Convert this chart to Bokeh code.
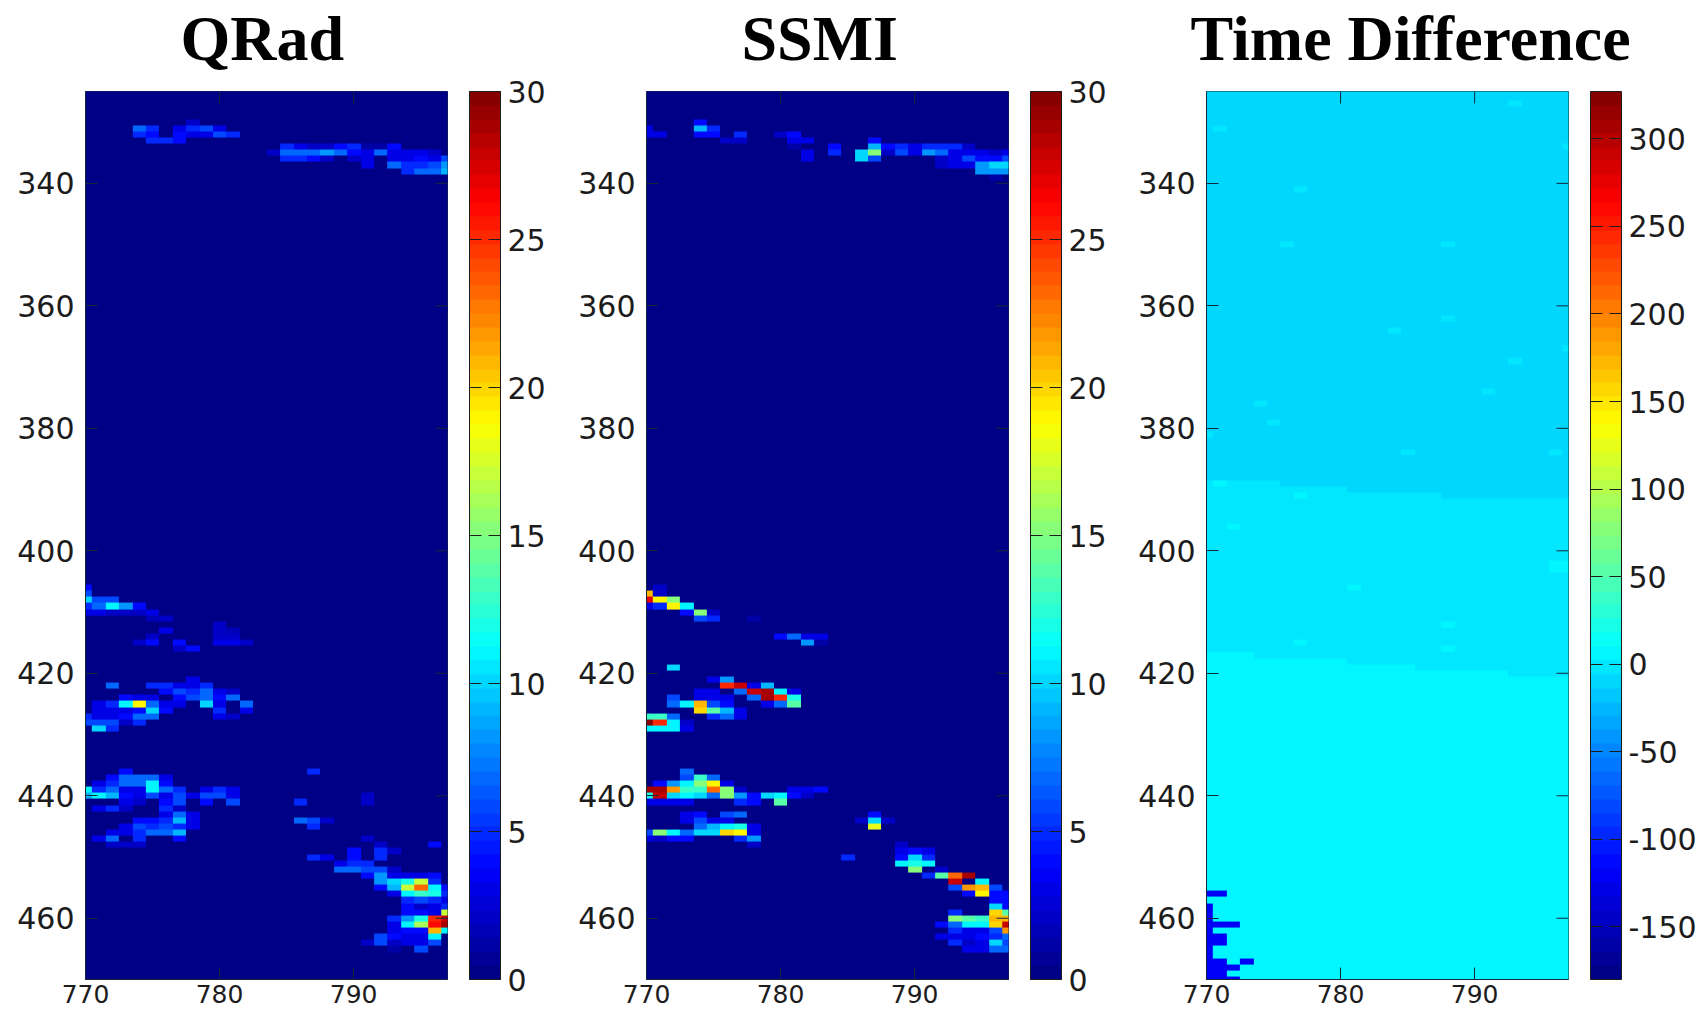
import numpy as np
from bokeh.core.properties import value
from bokeh.embed import file_html
from bokeh.resources import INLINE
from bokeh.layouts import column, row
from bokeh.models import ColorBar, FixedTicker, LinearColorMapper, Range1d
from bokeh.plotting import figure

# ---------- axis values ----------
x_ticks = [770, 780, 790]
y_ticks = [340, 360, 380, 400, 420, 440, 460]
x_values = list(range(770, 798))
y_values = list(range(325, 471))
rain_ticks = [0, 5, 10, 15, 20, 25, 30]
time_ticks = [-150, -100, -50, 0, 50, 100, 150, 200, 250, 300]
titles = ["QRad", "SSMI", "Time Difference"]
rain_limits = (0, 30)
time_limits = (-180, 327)

# ---------- QRad rain rates: {y: {x - 770: value}} ----------
qrad_cells = {
    330: {8: 2},
    331: {4: 7, 5: 5, 7: 3, 8: 5, 9: 6, 10: 3},
    332: {4: 5, 5: 4, 7: 4, 8: 3, 9: 3, 10: 6, 11: 5},
    333: {5: 5, 6: 5, 7: 4},
    334: {15: 5, 16: 3, 17: 2, 18: 2, 19: 4, 20: 5, 21: 1, 22: 1, 23: 4},
    335: {14: 2, 15: 7, 16: 7, 17: 7, 18: 8, 19: 7, 20: 4, 21: 3, 22: 7, 23: 3, 24: 3, 25: 3, 26: 2},
    336: {15: 5, 16: 5, 17: 4, 18: 2, 20: 2, 21: 3, 23: 3, 24: 3, 25: 4, 26: 3, 27: 6},
    337: {21: 3, 23: 7, 24: 5, 25: 5, 26: 6, 27: 8},
    338: {24: 5, 25: 7, 26: 7, 27: 9},
    406: {0: 4},
    407: {0: 6},
    408: {0: 10, 1: 6, 2: 6},
    409: {0: 5, 1: 7, 2: 11, 3: 8, 4: 4},
    410: {0: 3, 1: 3, 2: 2, 3: 2, 4: 2, 5: 3},
    411: {5: 1.5, 6: 2},
    412: {10: 2},
    413: {6: 3, 10: 2, 11: 1.5},
    414: {5: 2, 10: 2, 11: 2},
    415: {4: 2, 5: 4, 7: 4, 10: 3, 11: 3, 12: 2},
    416: {7: 2, 8: 4},
    421: {8: 3},
    422: {2: 7, 5: 5, 6: 5, 7: 3, 8: 3, 9: 5},
    423: {6: 4, 7: 6, 8: 5, 9: 7, 10: 3, 11: 2},
    424: {3: 4, 4: 3, 5: 3, 7: 4, 8: 6, 9: 7, 10: 4, 11: 7},
    425: {1: 3, 2: 5, 3: 11, 4: 19, 5: 7, 6: 3, 7: 3, 9: 10, 10: 3, 12: 7},
    426: {1: 3, 2: 3, 3: 3, 4: 4, 5: 10, 6: 4, 10: 5, 12: 3},
    427: {0: 5, 1: 3, 2: 3, 3: 4, 4: 7, 5: 7, 10: 3, 11: 2},
    428: {0: 6, 1: 6, 2: 6, 3: 2, 4: 5},
    429: {1: 10, 2: 5},
    436: {3: 4, 17: 5},
    437: {2: 4, 3: 7, 4: 7, 5: 7, 6: 3},
    438: {1: 3, 2: 5, 3: 7, 4: 7, 5: 11, 6: 4},
    439: {0: 11, 1: 5, 2: 7, 3: 3, 4: 3, 5: 11, 6: 7, 7: 5, 9: 3, 10: 5, 11: 3},
    440: {0: 9, 1: 11, 2: 9, 3: 4, 4: 3, 5: 6, 6: 3, 7: 6, 8: 3, 9: 6, 10: 6, 11: 3, 21: 2},
    441: {3: 3, 4: 2, 6: 4, 7: 6, 9: 4, 11: 6, 16: 5, 21: 2},
    442: {1: 3, 2: 5, 3: 2, 6: 5, 7: 2},
    443: {6: 3, 7: 7, 8: 3},
    444: {4: 4, 5: 4, 6: 5, 7: 9, 8: 3, 16: 7, 17: 6, 18: 2},
    445: {3: 3, 4: 6, 5: 5, 6: 6, 7: 5, 8: 3, 17: 5},
    446: {2: 3, 3: 3, 4: 5, 5: 7, 6: 7, 7: 9},
    447: {1: 3, 2: 7, 4: 5, 7: 4, 21: 2},
    448: {2: 2, 3: 2, 4: 2, 22: 2, 26: 4},
    449: {20: 4, 22: 5, 23: 2},
    450: {17: 5, 18: 3, 20: 4, 22: 5},
    451: {19: 3, 20: 5, 21: 5},
    452: {19: 7, 20: 7, 21: 6, 22: 6, 23: 2},
    453: {21: 4, 22: 8, 23: 3, 24: 3, 25: 3, 26: 4},
    454: {22: 8, 23: 10, 24: 12, 25: 17, 26: 5},
    455: {22: 4, 23: 9, 24: 17, 25: 23, 26: 11, 27: 4},
    456: {23: 3, 24: 11, 25: 13, 26: 12, 27: 5},
    457: {24: 5, 25: 6, 26: 5, 27: 3},
    458: {24: 4, 25: 2, 26: 3, 27: 5},
    459: {24: 4, 25: 4, 26: 3, 27: 17},
    460: {23: 5, 24: 8, 25: 12, 26: 25, 27: 28},
    461: {23: 3, 24: 11, 25: 16, 26: 26, 27: 29},
    462: {23: 3, 24: 4, 25: 4, 26: 21, 27: 11},
    463: {22: 6, 23: 4, 24: 3, 25: 3, 26: 11},
    464: {21: 2, 22: 6, 23: 2, 24: 3, 25: 3, 26: 6},
    465: {23: 1, 25: 6},
}

# ---------- SSMI rain rates: {y: {x - 770: value}} ----------
ssmi_cells = {
    330: {4: 4},
    331: {0: 3, 4: 9, 5: 5},
    332: {0: 3, 1: 3, 4: 4, 5: 4, 7: 5, 10: 2, 11: 4},
    333: {6: 2, 7: 2, 11: 3, 12: 3, 17: 4},
    334: {11: 1, 14: 4, 17: 9, 18: 4, 19: 5, 20: 3, 21: 5, 22: 5, 23: 5, 24: 2},
    335: {12: 3, 14: 5, 16: 10, 17: 15, 18: 2, 19: 6, 20: 3, 21: 8, 22: 7, 23: 3, 24: 3, 25: 3, 26: 2, 27: 3},
    336: {12: 3, 16: 10, 17: 6, 22: 2, 23: 3, 24: 6, 25: 4, 26: 4, 27: 6},
    337: {22: 2, 23: 3, 24: 3, 25: 8, 26: 10, 27: 10},
    338: {25: 8, 26: 8, 27: 8},
    339: {26: 1},
    406: {1: 2},
    407: {0: 21, 1: 2},
    408: {0: 27, 1: 19, 2: 15},
    409: {0: 3, 1: 5, 2: 19, 3: 11},
    410: {3: 4, 4: 15, 5: 2},
    411: {4: 6, 5: 5, 8: 1},
    414: {10: 4, 11: 7, 12: 3, 13: 3},
    415: {12: 8, 13: 1},
    419: {2: 10},
    421: {5: 3, 6: 8},
    422: {6: 25, 7: 28, 8: 3, 9: 9},
    423: {4: 3, 5: 3, 7: 7, 8: 28, 9: 29, 10: 11, 11: 3},
    424: {2: 6, 4: 3, 5: 3, 6: 3, 8: 7, 9: 29, 10: 25, 11: 12},
    425: {2: 7, 3: 11, 4: 21, 5: 6, 6: 4, 9: 3, 10: 7, 11: 14},
    426: {4: 20, 5: 14, 6: 9, 7: 3},
    427: {0: 13, 1: 13, 2: 7, 5: 5, 6: 7, 7: 3},
    428: {0: 30, 1: 25, 2: 11, 3: 2},
    429: {0: 11, 1: 11, 2: 11, 3: 3},
    436: {3: 7},
    437: {3: 6, 4: 13, 5: 7},
    438: {1: 4, 2: 8, 3: 11, 4: 15, 5: 19, 6: 3},
    439: {0: 29, 1: 29, 2: 22, 3: 13, 4: 13, 5: 23, 6: 15, 7: 2, 11: 3, 12: 3, 13: 4},
    440: {0: 12, 1: 28, 2: 10, 3: 11, 4: 10, 5: 7, 6: 15, 7: 8, 8: 4, 9: 10, 10: 11, 11: 4, 12: 2},
    441: {0: 3, 1: 3, 2: 3, 3: 3, 7: 5, 8: 4, 10: 14},
    443: {3: 3, 4: 4, 6: 6, 7: 7, 17: 4},
    444: {3: 3, 4: 6, 5: 3, 6: 3, 16: 2, 17: 10, 18: 2},
    445: {4: 7, 5: 9, 6: 11, 7: 12, 8: 3, 17: 18},
    446: {0: 6, 1: 15, 2: 11, 3: 7, 4: 10, 5: 10, 6: 20, 7: 19, 8: 3},
    447: {0: 3, 1: 2, 2: 4, 3: 4, 7: 5, 8: 8},
    448: {8: 2, 19: 2},
    449: {19: 3, 20: 4, 21: 3},
    450: {15: 5, 19: 4, 20: 10, 21: 5},
    451: {19: 11, 20: 12, 21: 11},
    452: {20: 15, 22: 2},
    453: {21: 5, 22: 14, 23: 23, 24: 29},
    454: {23: 28, 25: 11},
    455: {23: 6, 24: 22, 25: 21, 26: 6},
    456: {24: 4, 25: 19, 26: 4, 27: 4},
    457: {26: 4, 27: 4},
    458: {26: 10, 27: 4},
    459: {23: 5, 26: 20, 27: 14},
    460: {23: 15, 24: 14, 25: 13, 26: 21, 27: 21},
    461: {22: 4, 23: 7, 24: 11, 25: 11, 26: 20, 27: 28},
    462: {23: 5, 24: 3, 25: 3, 26: 6, 27: 22},
    463: {22: 3, 23: 3, 24: 3, 25: 4, 26: 5, 27: 7},
    464: {23: 5, 24: 2, 25: 3, 26: 10, 27: 6},
    465: {24: 3, 25: 3, 26: 7, 27: 7},
}

# ---------- Time difference ----------
td_band_values = [-13, -5, 5]
td_columns = [(0, 3), (4, 5), (6, 10), (11, 15), (16, 17), (18, 22), (23, 27)]
td_mid_first_row = [389, 389, 390, 391, 391, 392, 392]
td_low_first_row = [417, 418, 418, 419, 420, 420, 421]
# Slightly warmer isolated cells: {y: [x - 770, ...]}
td_warm_cells = {
    327: [23], 331: [1], 334: [27], 341: [7], 350: [6, 18], 362: [18], 364: [14],
    367: [27], 369: [23], 374: [21], 376: [4], 379: [5], 381: [0], 384: [15, 26],
    389: [1], 391: [7], 396: [2], 402: [26, 27], 403: [26, 27], 406: [11],
    412: [18], 415: [7], 416: [18],
}
td_warm_step = 8
# Strongly negative cells at the lower left: {y: [x - 770, ...]}
td_cold_value = -124
td_cold_cells = {
    456: [0, 1], 458: [0], 459: [0], 460: [0], 461: [0, 1, 2], 462: [0],
    463: [0, 1], 464: [0, 1], 465: [0], 466: [0], 467: [0, 1, 3],
    468: [0, 1, 2], 469: [0, 1], 470: [0, 1, 2],
}


def grid_from_cells(cells):
    grid = np.zeros((len(y_values), len(x_values)))
    for y, cols in cells.items():
        for col, v in cols.items():
            grid[y - y_values[0], col] = v
    return grid


def time_grid():
    grid = np.full((len(y_values), len(x_values)), float(td_band_values[0]))
    for (c0, c1), mid, low in zip(td_columns, td_mid_first_row, td_low_first_row):
        grid[mid - y_values[0]:low - y_values[0], c0:c1 + 1] = td_band_values[1]
        grid[low - y_values[0]:, c0:c1 + 1] = td_band_values[2]
    for y, cols in td_warm_cells.items():
        for col in cols:
            grid[y - y_values[0], col] += td_warm_step
    for y, cols in td_cold_cells.items():
        for col in cols:
            grid[y - y_values[0], col] = td_cold_value
    return grid


def jet(n=64):
    stops = [0, .125, .375, .625, .875, 1]
    rr = [0, 0, 0, 1, 1, .5]
    gg = [0, 0, 1, 1, 0, 0]
    bb = [.5, 1, 1, 0, 0, 0]
    t = (np.arange(n) + .5) / n
    out = []
    for a, b, c in zip(np.interp(t, stops, rr), np.interp(t, stops, gg), np.interp(t, stops, bb)):
        out.append("#%02x%02x%02x" % (round(a * 255), round(b * 255), round(c * 255)))
    return out


PALETTE = jet()
INK = "#1c1c1c"
TICK = "#14283c"
LABEL_FONT = "DejaVu Sans"
LABEL_SIZE = "30px"
X_LABEL_SIZE = "25px"
FRAME_W, FRAME_H = 362, 888
TICK_LEN = 12
PAGE_W = 1704
HEADER_H = 75
TOP_GAP = 16


def panel(grid, limits, bar_ticks, left, right):
    mapper = LinearColorMapper(palette=PALETTE, low=limits[0], high=limits[1])
    p = figure(frame_width=FRAME_W, frame_height=FRAME_H, output_backend="svg", toolbar_location=None,
               x_range=Range1d(x_values[0], x_values[-1]),
               y_range=Range1d(y_values[-1], y_values[0]),
               min_border_left=left, min_border_right=right, min_border_top=TOP_GAP,
               min_border_bottom=34, outline_line_color=TICK, outline_line_width=1)
    p.grid.visible = False
    p.image(image=[grid], x=x_values[0] - .5, y=y_values[0] - .5,
            dw=len(x_values), dh=len(y_values), color_mapper=mapper)

    for ax, ticks, size, standoff in ((p.xaxis[0], x_ticks, X_LABEL_SIZE, 5),
                                      (p.yaxis[0], y_ticks, LABEL_SIZE, 11)):
        ax.ticker = FixedTicker(ticks=ticks)
        ax.major_tick_in = TICK_LEN
        ax.major_tick_out = 0
        ax.minor_tick_line_color = None
        ax.major_tick_line_color = TICK
        ax.axis_line_color = TICK
        ax.major_label_text_font = LABEL_FONT
        ax.major_label_text_font_size = size
        ax.major_label_text_color = INK
        ax.major_label_standoff = standoff

    # Box ticks on the top and right edges (MATLAB "box on")
    dx = TICK_LEN * (x_values[-1] - x_values[0]) / FRAME_W
    dy = TICK_LEN * (y_values[-1] - y_values[0]) / FRAME_H
    p.segment(x0=x_ticks, x1=x_ticks, y0=[y_values[0]] * len(x_ticks),
              y1=[y_values[0] + dy] * len(x_ticks), line_color=TICK, line_width=1)
    p.segment(x0=[x_values[-1]] * len(y_ticks), x1=[x_values[-1] - dx] * len(y_ticks),
              y0=y_ticks, y1=y_ticks, line_color=TICK, line_width=1)

    bar = ColorBar(color_mapper=mapper, ticker=FixedTicker(ticks=bar_ticks), width=31, height=FRAME_H,
                   location=(FRAME_W + 22, 0), margin=0, padding=0, major_tick_in=31, major_tick_out=0,
                   major_tick_line_color=INK, major_tick_line_dash="12 7 12",
                   minor_tick_line_color=None, bar_line_color=INK, border_line_color=None,
                   background_fill_color=None, label_standoff=7,
                   major_label_overrides={t: str(t) for t in bar_ticks},
                   major_label_text_font=LABEL_FONT, major_label_text_font_size=LABEL_SIZE,
                   major_label_text_color=INK)
    p.add_layout(bar)
    return p


# Title strip: one figure, in page pixels, holding the three panel titles
header = figure(width=PAGE_W, height=HEADER_H, output_backend="svg", toolbar_location=None,
                x_range=Range1d(0, PAGE_W), y_range=Range1d(HEADER_H, 0),
                min_border=0, outline_line_color=None)
header.axis.visible = False
header.grid.visible = False
header.text(x=[180, 741, 1190], y=[38, 38, 38], text=titles, text_baseline="alphabetic",
            text_align="left", text_font=value("Liberation Serif"), text_font_style="bold",
            text_font_size=value("64px"), text_color="#000000")

p1 = panel(grid_from_cells(qrad_cells), rain_limits, rain_ticks, 85, 121)
p2 = panel(grid_from_cells(ssmi_cells), rain_limits, rain_ticks, 78, 121)
p3 = panel(time_grid(), time_limits, time_ticks, 77, 136)

page = column(header, row(p1, p2, p3, spacing=0), spacing=0)
open("out.html", "w").write(file_html(page, INLINE))
